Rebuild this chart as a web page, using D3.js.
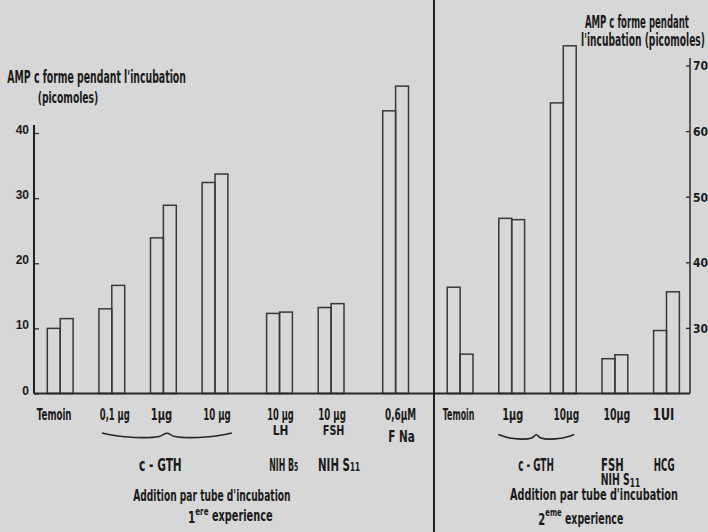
<!DOCTYPE html>
<html>
<head>
<meta charset="utf-8">
<script src="https://cdn.jsdelivr.net/npm/d3@7"></script>
<style>
  html, body { margin: 0; padding: 0; background: #d7d7d7; }
  svg { display: block; }
  text {
    font-family: "Liberation Sans Narrow", "Arial Narrow", "DejaVu Sans Condensed", "DejaVu Sans", sans-serif;
    font-weight: bold;
    fill: #1a1a1a;
  }
</style>
</head>
<body>
<svg id="chart" width="708" height="532"></svg>
<script>
// ---- Data: cAMP formed during incubation (picomoles), two tubes per condition ----
// 1st experiment (left scale)
const exp1Labels   = ["Temoin", "0,1 µg", "1µg", "10 µg", "10 µg", "10 µg", "0,6µM"];
const exp1SeriesA  = [10.0, 13.0, 23.9, 32.4, 12.3, 13.2, 43.4];
const exp1SeriesB  = [11.5, 16.6, 28.9, 33.7, 12.5, 13.8, 47.2];
// 2nd experiment (right scale)
const exp2Labels   = ["Temoin", "1µg", "10µg", "10µg", "1UI"];
const exp2SeriesA  = [36.2, 46.7, 64.3, 25.3, 29.6];
const exp2SeriesB  = [26.0, 46.5, 73.0, 25.9, 35.5];
// Axis ticks
const leftTicks  = [0, 10, 20, 30, 40];
const rightTicks = [30, 40, 50, 60, 70];

// ---- Layout ----
const W = 708, H = 532;
const baseY = 393.5;
const leftAxisX = 34, rightAxisX = 690, dividerX = 434;
// empty bar-widths between consecutive groups (each group is two bars wide)
const groupGaps = [0, 2, 2, 2, 3, 2, 3, 3, 2, 2, 2, 2];
// small horizontal nudges of the first label row
const labelNudge = [-6, 3, -2, 2, 1, 1, 5, -1.5, 1, 3, 2, -3];
const labelWidths = [34.7, 30, 21.4, 27.6, 26.6, 27.7, 31, 31.6, 21, 25.6, 26.7, 21.7];

const slots = [];
groupGaps.forEach((g, i) => slots.push(i === 0 ? 0 : slots[i - 1] + 2 + g));
const nSlots = slots[slots.length - 1] + 2;

const x = d3.scaleLinear().domain([0, nSlots]).range([47.3, 47.3 + nSlots * 12.9]);
const bw = x(1) - x(0);
const yL = d3.scaleLinear().domain([0, 40]).range([baseY, 133]);
const yR = d3.scaleLinear().domain([20, 70]).range([baseY, 65.5]);

const svg = d3.select("#chart");
svg.append("rect").attr("width", W).attr("height", H).attr("fill", "#d7d7d7");

// ---- Bars ----
const bars = [];
exp1SeriesA.forEach((v, i) => {
  bars.push({ slot: slots[i], v: v, y: yL });
  bars.push({ slot: slots[i] + 1, v: exp1SeriesB[i], y: yL });
});
exp2SeriesA.forEach((v, i) => {
  const k = exp1SeriesA.length + i;
  bars.push({ slot: slots[k], v: v, y: yR });
  bars.push({ slot: slots[k] + 1, v: exp2SeriesB[i], y: yR });
});
svg.append("g")
  .selectAll("rect")
  .data(bars)
  .join("rect")
  .attr("x", d => x(d.slot))
  .attr("y", d => d.y(d.v))
  .attr("width", bw)
  .attr("height", d => baseY - d.y(d.v))
  .attr("fill", "none")
  .attr("stroke", "#383838")
  .attr("stroke-width", 1.5);

// ---- Baseline, divider, axes ----
svg.append("line").attr("x1", leftAxisX).attr("x2", rightAxisX)
  .attr("y1", baseY).attr("y2", baseY)
  .attr("stroke", "#2a2a2a").attr("stroke-width", 2);
svg.append("line").attr("x1", dividerX).attr("x2", dividerX)
  .attr("y1", 0).attr("y2", H)
  .attr("stroke", "#1e1e1e").attr("stroke-width", 2);

const gL = svg.append("g").attr("transform", `translate(${leftAxisX},0)`)
  .style("color", "#2a2a2a")
  .call(d3.axisLeft(yL).tickValues(leftTicks).tickSize(-5).tickPadding(5));
gL.select(".domain").remove();
gL.selectAll(".tick line").attr("stroke-width", 1.3);
gL.selectAll(".tick text")
  .attr("dy", "0.05em")
  .style("font-family", "'Liberation Sans', Arial, sans-serif")
  .style("font-size", "12px");
svg.append("line").attr("x1", leftAxisX).attr("x2", leftAxisX)
  .attr("y1", 125).attr("y2", baseY)
  .attr("stroke", "#1e1e1e").attr("stroke-width", 2);

const gR = svg.append("g").attr("transform", `translate(${rightAxisX},0)`)
  .style("color", "#2a2a2a")
  .call(d3.axisRight(yR).tickValues(rightTicks).tickSize(-4).tickPadding(3));
gR.select(".domain").remove();
gR.selectAll(".tick line").attr("stroke-width", 1.3);
gR.selectAll(".tick text")
  .attr("dy", "0.36em")
  .style("font-size", "12px");
svg.append("line").attr("x1", rightAxisX).attr("x2", rightAxisX)
  .attr("y1", 58).attr("y2", baseY)
  .attr("stroke", "#2a2a2a").attr("stroke-width", 1.5);

// ---- Text helpers ----
// Condense a text horizontally so that it spans exactly w pixels.
function fit(t, px, py, w) {
  const nat = t.node().getComputedTextLength();
  const sx = w && nat ? w / nat : 1;
  t.attr("x", 0).attr("y", 0)
    .attr("transform", `translate(${px},${py}) scale(${sx},1)`);
  return t;
}
function put(str, px, py, size, w, anchor) {
  const t = svg.append("text")
    .style("font-size", size + "px")
    .attr("text-anchor", anchor || "start")
    .text(str);
  return fit(t, px, py, w);
}
// text made of several runs (sub/superscripts), fitted to one overall width
function putRuns(runs, px, py, w) {
  const t = svg.append("text");
  runs.forEach(r => {
    t.append("tspan")
      .attr("dy", r.dy || 0)
      .style("font-size", r.size + "px")
      .text(r.t);
  });
  return fit(t, px, py, w);
}
const groupCenter = i => x(slots[i] + 1);

// Axis titles
put("AMP c forme pendant l'incubation", 7.3, 83, 17, 178.7);
put("(picomoles)", 37.7, 103, 16, 60.6);
put("AMP c forme pendant", 585, 28, 17, 104);
put("l'incubation (picomoles)", 581, 46, 17, 124);

// First label row (doses)
const allLabels = exp1Labels.concat(exp2Labels);
allLabels.forEach((s, i) => {
  put(s, groupCenter(i) + labelNudge[i], 420, 16, labelWidths[i], "middle");
});

// Second row: substances
put("LH", groupCenter(4) + 1, 435, 14, 15.6, "middle");
put("FSH", groupCenter(5) + 2.5, 435, 14, 21.6, "middle");
put("F Na", groupCenter(6) + 6, 441.5, 16, 26.6, "middle");

// Braces grouping the c-GTH doses
const brace = d3.line().curve(d3.curveCatmullRom);
function drawBrace(a, b, y0) {
  const m = (a + b) / 2, h = (b - a) / 2;
  const pts = [
    [a, y0], [a + h * 0.35, y0 + 3.8], [m - h * 0.12, y0 + 3.5],
    [m, y0 + 0.3],
    [m + h * 0.12, y0 + 3.5], [b - h * 0.35, y0 + 3.8], [b, y0]
  ];
  svg.append("path").attr("d", brace(pts))
    .attr("fill", "none").attr("stroke", "#262626").attr("stroke-width", 1.6);
}
drawBrace(x(slots[1]) + 3, x(slots[3] + 2) + 4, 433);
drawBrace(x(slots[8]) - 0.5, x(slots[9] + 2) - 2, 434.5);

// Third row
put("c - GTH", (x(slots[1]) + x(slots[3] + 2)) / 2 - 3, 471, 17, 42.7, "middle");
putRuns([{ t: "NIH B", size: 17 }, { t: "5", size: 13 }], 269.3, 471, 29);
putRuns([{ t: "NIH S", size: 17 }, { t: "11", size: 12 }], 318, 471, 42);

put("c - GTH", (x(slots[8]) + x(slots[9] + 2)) / 2 - 1.5, 471, 17, 35.7, "middle");
put("FSH", groupCenter(10) - 2.5, 471, 17, 22.6, "middle");
put("HCG", groupCenter(11) - 2.3, 471, 17, 20.7, "middle");
putRuns([{ t: "NIH S", size: 15 }, { t: "11", size: 12, dy: 1.5 }], 600.7, 485, 39.5);

// Experiment captions
put("Addition par tube d'incubation", 133.3, 500.5, 15, 157.4);
putRuns([
  { t: "1", size: 16 },
  { t: "ere", size: 11, dy: -8.5 },
  { t: " experience", size: 15, dy: 6.5 }
], 188, 523, 84.7);

put("Addition  par tube  d'incubation", 510, 499.5, 16, 168);
putRuns([
  { t: "2", size: 16 },
  { t: "eme", size: 11, dy: -9 },
  { t: " experience", size: 15, dy: 8 }
], 538.3, 525, 85);
</script>
</body>
</html>
